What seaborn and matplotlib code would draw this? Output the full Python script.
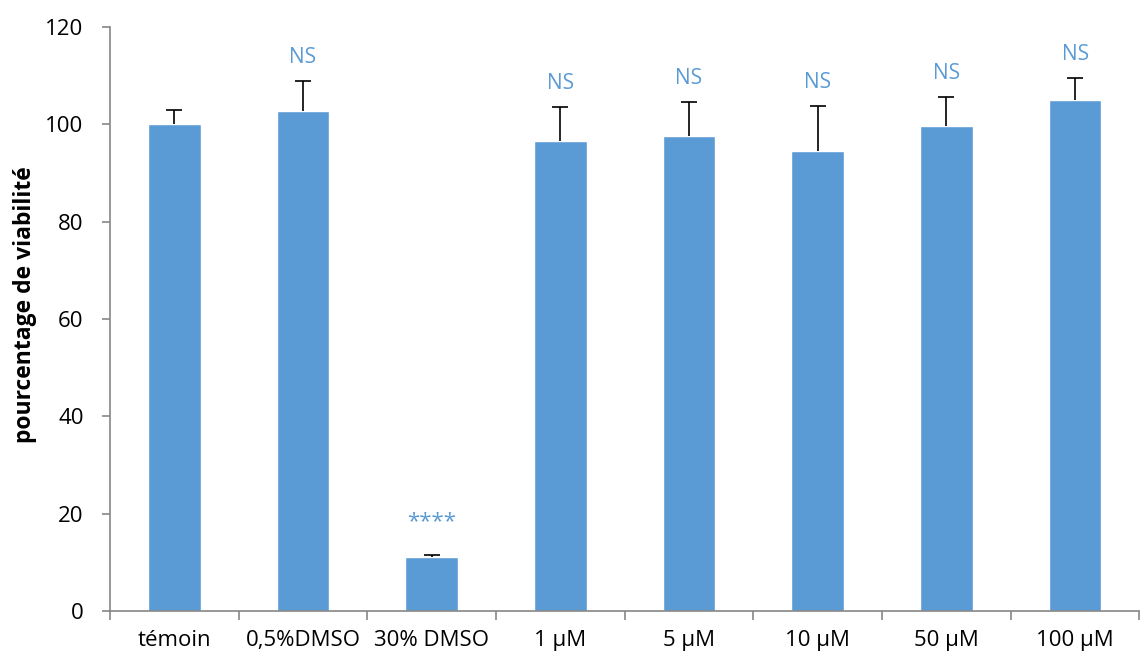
import matplotlib
matplotlib.use("Agg")
import matplotlib.pyplot as plt
import numpy as np
import pandas as pd
import seaborn as sns

# data
categories = ["témoin", "0,5%DMSO", "30% DMSO", "1 µM", "5 µM", "10 µM", "50 µM", "100 µM"]
viability = [100.0, 102.7, 11.1, 96.6, 97.5, 94.6, 99.6, 105.0]
err_top = [102.9, 108.9, 11.5, 103.6, 104.6, 103.8, 105.7, 109.5]
signif = ["", "NS", "****", "NS", "NS", "NS", "NS", "NS"]

df = pd.DataFrame({"cond": categories, "viab": viability})
sd = np.array(err_top) - np.array(viability)

sns.set_style("white")
plt.rcParams["font.family"] = ["Open Sans", "DejaVu Sans"]

bar_color = "#5B9BD5"
axis_color = "#868686"

fig = plt.figure(figsize=(11.4, 6.57), dpi=100)
ax = fig.add_axes([0.0965, 0.07, 0.903, 0.889])

sns.barplot(data=df, x="cond", y="viab", color=bar_color, width=0.41,
            saturation=1, errorbar=None, ax=ax)
# upper error bars only
_, caps, _ = ax.errorbar(range(len(categories)), viability,
                         yerr=[np.zeros(len(sd)), sd], fmt="none",
                         ecolor="black", elinewidth=1.2, capsize=6, capthick=1.2)
caps[0].set_visible(False)

for i, s in enumerate(signif):
    if s:
        if s.startswith("*"):
            ax.text(i, err_top[i] + 6.8, s, ha="center", va="center",
                    color=bar_color, fontsize=16)
        else:
            ax.text(i, err_top[i] + 4.8, s, ha="center", va="center",
                    color=bar_color, fontsize=15)

ax.set_ylim(0, 120)
ax.set_xlim(-0.5, len(categories) - 0.5)
ax.set_yticks(range(0, 121, 20))
ax.set_xlabel("")
ax.set_ylabel("pourcentage de viabilité", fontsize=16.5, fontweight="bold", color="black")
ax.yaxis.set_label_coords(-0.071, 0.524)

for side in ["top", "right"]:
    ax.spines[side].set_visible(False)
for side in ["left", "bottom"]:
    ax.spines[side].set_color(axis_color)
    ax.spines[side].set_linewidth(1.2)

ax.tick_params(axis="y", which="major", length=6, width=1.2, color=axis_color,
               direction="out", labelsize=16, labelcolor="black", pad=13, left=True)
ax.tick_params(axis="x", which="major", length=0, labelsize=16, labelcolor="black", pad=14)
ax.set_xticks(np.arange(-0.5, len(categories), 1.0), minor=True)
ax.tick_params(axis="x", which="minor", length=6.5, width=1.2, color=axis_color,
               direction="out", bottom=True)

fig.savefig("out.png", dpi=100)
